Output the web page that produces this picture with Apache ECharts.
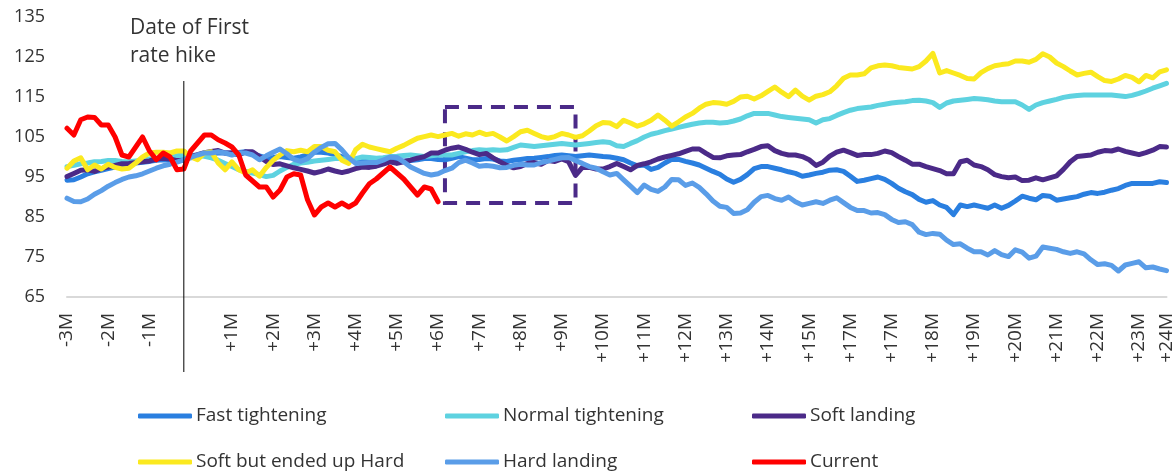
<!DOCTYPE html>
<html>
<head>
<meta charset="utf-8">
<script src="https://cdn.jsdelivr.net/npm/echarts@6/dist/echarts.min.js"></script>
<style>
  html, body { margin: 0; padding: 0; background: #fff; }
  #main { width: 1176px; height: 475px; }
</style>
</head>
<body>
<div id="main"></div>
<script>
// x axis: 161 steps, month labels sit on some of them
var tickLabels = ['-3M','-2M','-1M','+1M','+2M','+3M','+4M','+5M','+6M','+7M','+8M','+9M','+10M','+11M','+12M','+13M','+14M','+15M','+17M','+17M','+18M','+19M','+20M','+21M','+22M','+23M','+24M'];
var tickIndex = [0,6,12,24,30,36,42,48,54,60,66,72,78,84,90,96,102,108,114,120,126,132,138,144,150,156,160];
var stepCount = 161;
var hikeIndex = 17;

var fastTightening = [94.2,94.3,95,95.8,96.3,96.7,97.1,97.5,97.9,98.3,
  98.5,98.7,98.9,99.2,99.3,99.2,99.3,99.5,99.8,100.3,
  100.5,100.9,101,101,101,101.1,101.3,100.8,100.3,99.8,
  99.9,100.1,99.9,99.7,100,100.5,101.2,101.2,101,100.6,
  100.1,99.7,99.3,99.1,98.9,99.1,99.2,99.1,98.9,99,
  99.1,99.3,99.6,99.6,99.4,99.3,99.7,100.1,99.7,99.3,
  99.4,99.6,99.5,99,98.9,99.2,99.4,99.6,99.7,99.9,
  100.1,100.4,100.5,100.3,100.1,100.3,100.5,100.3,100.1,100,
  99.7,99.3,98.5,97.8,98,96.9,97.4,98.5,99.4,99.4,
  98.9,98.5,98,97.2,96.4,95.7,94.5,93.7,94.4,95.6,
  97.1,97.6,97.6,97.2,96.8,96.3,95.9,95.2,95.5,95.9,
  96.2,96.7,96.8,96.4,95.2,93.9,94.2,94.6,95,94.4,
  93.4,92.2,91.3,90.6,89.4,88.7,89.1,88,87.4,85.6,
  88,87.6,88,87.6,87.2,88,87.2,87.9,89,90.2,
  89.7,89.3,90.4,90.2,89.2,89.5,89.8,90.1,90.7,91.1,
  90.9,91.2,91.7,92.1,92.9,93.4,93.4,93.4,93.4,93.8,
  93.6];

var normalTightening = [97.6,97.9,98.3,98.5,98.8,98.9,99.1,99.1,98.9,98.8,
  99,99.2,99.5,99.7,99.9,100.1,100.3,100.5,100.5,100.4,
  100.2,99.8,99.2,98.4,97.6,96.8,96.4,96,95.6,95.1,
  95.4,96.5,97.4,98.2,98.5,98.7,99,99.2,99.4,99.6,
  99.6,99.3,99.6,100,99.9,99.7,99.8,100.1,100.2,100.4,
  100.5,100.3,100.1,100.3,100.5,100.5,100.5,100.9,101.3,101.6,
  101.8,101.7,101.8,101.7,101.8,102.4,103,102.8,102.6,102.8,
  103,103.2,103.4,103.2,103,103.2,103.4,103.6,103.8,103.6,
  102.8,102.6,103.4,104.1,105,105.7,106.1,106.6,107,107.4,
  107.8,108.2,108.5,108.7,108.7,108.5,108.6,109,109.5,110.3,
  110.9,110.9,110.9,110.5,110.1,109.9,109.7,109.5,109.3,108.5,
  109.3,109.6,110.4,111.1,111.7,112.1,112.3,112.5,112.9,113.2,
  113.5,113.7,113.8,114.1,114.2,114,113.6,112.4,113.5,114,
  114.2,114.4,114.6,114.5,114.3,114,113.8,113.8,113.8,113,
  111.9,113,113.6,114,114.4,114.9,115.2,115.4,115.5,115.5,
  115.5,115.5,115.5,115.3,115.1,115.4,115.9,116.5,117.2,117.8,
  118.4];

var softLanding = [95.1,95.9,96.7,96.8,96.4,97.1,97.5,97.9,98.3,98.4,
  98.6,98.8,99,99.5,99.7,99.5,99.1,99.1,100.1,100.6,
  101.1,101.4,101.6,101,101,100.5,101.3,101.3,100.1,98.9,
  98.1,98.3,97.8,97.3,96.9,96.5,96,96.4,97,96.5,
  96.1,96.5,97.1,97.5,97.4,97.7,98.2,98.8,98.4,98.8,
  99.2,99.7,100.1,101,101,101.7,102.2,102.5,101.9,101.2,
  100.6,100.9,99.8,98.8,97.9,97.3,97.6,98.4,98.6,98.2,
  99.1,98.9,99.5,98.8,95.4,97.4,97.4,97,97,97.6,
  98.4,97.6,96.8,97.9,98.3,98.8,99.5,100,100.4,100.8,
  101.4,102,102,100.9,99.9,99.8,100.3,100.5,100.6,101.3,
  101.9,102.6,102.8,101.6,100.9,100.5,100.5,100.1,99.3,97.9,
  98.7,100.2,101.2,101.7,101.1,100.4,100.6,100.6,100.9,101.5,
  101.1,100.1,99.2,98.2,98.2,97.6,97.1,96.6,95.8,95.8,
  98.8,99.2,98,97.6,96.8,95.6,95.1,94.8,95,94.1,
  94.2,94.8,94.3,94.8,95.3,96.9,98.8,100.1,100.3,100.5,
  101.2,101.6,101.5,102,101.4,101,100.6,101.1,101.7,102.6,
  102.5];

var softButHard = [97.2,99,99.8,96.8,98,97,98.2,97.4,97,97.2,
  98.5,100,101,101.2,101.2,101,101.5,101.5,100,99.3,
  101,101.3,98.5,96.8,98.8,96.8,96,96.8,95.2,97.4,
  99.2,100.5,101.6,101.3,101.7,101.3,102.6,102.6,101.7,101.3,
  99.2,98.4,101.8,103.2,102.5,102.1,101.7,101.3,102.2,102.9,
  103.8,104.7,105.1,105.5,105.1,105.5,105.9,105.2,105.8,105.5,
  106.2,105.6,105.9,105,104,105.1,106.3,106.7,105.9,105.1,
  104.7,105.1,105.9,105.5,104.9,105.3,106.5,107.8,108.6,108.5,
  107.6,109.2,108.5,107.7,108.3,109.2,110.5,109.2,107.7,108.8,
  110,110.9,112.2,113.2,113.6,113.5,113.2,113.9,115,115.2,
  114.5,115.3,116.4,117.5,116.2,115.1,116.7,115.2,114.2,115.2,
  115.6,116.3,117.8,119.7,120.5,120.5,120.8,122.3,122.8,123,
  122.8,122.4,122.2,122,122.6,124,125.9,121,121.6,121,
  120.4,119.6,119.5,121.1,122.1,122.8,123.1,123.3,124,124,
  123.7,124.4,125.8,125,123.5,122.6,121.5,120.5,120.9,121.2,
  120.1,119.1,118.9,119.5,120.4,119.9,118.8,120.4,119.8,121.3,
  121.8];

var hardLanding = [89.7,88.9,88.8,89.5,90.7,91.6,92.7,93.6,94.4,95,
  95.3,95.8,96.5,97.2,97.8,98.2,98.7,99.3,99.9,100.5,
  101,101,101.3,101,100.5,101,101,100.5,99.3,100.3,
  101.2,102,100.8,99.4,98.9,99.6,101.2,102.4,103.3,103.4,
  101.8,99.8,98.4,98.5,98.6,98.6,99.2,100,99.9,98.8,
  97.5,96.7,95.9,95.5,95.8,96.6,97.2,98.6,99.2,98.5,
  97.7,97.9,97.7,97.3,97.4,97.9,98.2,98,98,98.6,
  99,99.4,99.8,99.9,99.1,98.4,97.6,97.2,96.3,95.5,
  95.9,94.3,92.7,91.1,93,91.9,91.4,92.5,94.4,94.3,
  92.9,93.5,92.4,90.8,89,87.7,87.4,85.9,86,86.8,
  88.7,90.1,90.4,89.6,89.2,90,88.8,88,88.4,88.8,
  88.4,89.2,89.8,88.6,87.4,86.6,86.6,86,86.1,85.6,
  84.4,83.6,83.8,83.1,81.2,80.6,80.9,80.7,79.2,78.1,
  78.3,77.2,76.3,76.3,75.5,76.6,75.6,75.1,76.8,76.2,
  74.7,75.2,77.5,77.2,76.9,76.3,75.9,76.3,75.8,74.3,
  73.1,73.3,72.9,71.5,73,73.4,73.8,72.3,72.5,72,
  71.6];

var current = [107.2,105.5,109.3,110,109.9,108,108,105,100.5,100,
  102.5,105,101.5,99.3,101,100,96.8,97,101.5,103.5,
  105.5,105.5,104.3,103.5,102.5,100.5,95.5,94,92.5,92.5,
  90,91.75,95,95.8,95.5,89.3,85.5,87.5,88.5,87.5,
  88.5,87.5,88.5,91,93.3,94.5,96,97.5,96,94.5,
  92.5,90.5,92.5,92,88.8];

// highlighted window (dashed box)
var boxX = [55, 74];
var boxY = [112.5, 88.5];

var categories = [];
for (var i = 0; i < stepCount; i++) categories.push('');
for (var k = 0; k < tickIndex.length; k++) categories[tickIndex[k]] = tickLabels[k];

var font = '"Open Sans", Lato, sans-serif';

var makeLine = function (name, color, data) {
    return {
        name: name,
        type: 'line',
        data: data,
        showSymbol: false,
        symbol: 'none',
        smooth: false,
        lineStyle: { color: color, width: 5, cap: 'round', join: 'round' },
        itemStyle: { color: color },
        emphasis: { disabled: true },
        silent: true
    };
};

var series = [
    makeLine('Fast tightening', '#2a7fe0', fastTightening),
    makeLine('Normal tightening', '#5ed2e0', normalTightening),
    makeLine('Soft landing', '#4b2a88', softLanding),
    makeLine('Soft but ended up Hard', '#fbe91f', softButHard),
    makeLine('Hard landing', '#5a9de8', hardLanding),
    makeLine('Current', '#ff0000', current)
];
series[2].markArea = {
    silent: true,
    itemStyle: {
        color: 'rgba(0,0,0,0)',
        borderColor: '#4b2a88',
        borderWidth: 4,
        borderType: [14, 9]
    },
    data: [[{ coord: [boxX[0], boxY[0]] }, { coord: [boxX[1], boxY[1]] }]]
};

var myChart = echarts.init(document.getElementById('main'), null, { renderer: 'canvas' });
var option = {
    animation: false,
    backgroundColor: '#fff',
    grid: { left: 67, right: 9, top: 17, bottom: 178, containLabel: false },
    legend: {
        left: 138,
        top: 393,
        padding: 0,
        width: 930,
        itemGap: 0,
        itemWidth: 54,
        itemHeight: 5,
        icon: 'roundRect',
        selectedMode: false,
        textStyle: { fontFamily: font, fontSize: 19, color: '#333', width: 249, lineHeight: 46, padding: [0, 0, 0, -1] },
        data: series.map(function (s) { return s.name; })
    },
    xAxis: {
        type: 'category',
        data: categories,
        boundaryGap: false,
        axisLine: { lineStyle: { color: '#d9d9d9', width: 2 } },
        axisTick: { show: false },
        splitLine: { show: false },
        axisLabel: {
            rotate: 90,
            margin: 16,
            fontFamily: font,
            fontSize: 19,
            color: '#333',
            interval: function (idx, val) { return val !== ''; }
        }
    },
    yAxis: {
        type: 'value',
        min: 65,
        max: 135,
        interval: 10,
        axisLine: { show: false },
        axisTick: { show: false },
        splitLine: { show: false },
        axisLabel: { margin: 22, fontFamily: font, fontSize: 18, color: '#333' }
    },
    series: series
};
myChart.setOption(option);

// vertical marker at the first hike, reaching below the axis labels
var hikeX = myChart.convertToPixel({ xAxisIndex: 0 }, hikeIndex);
myChart.setOption({
    graphic: [
        {
            type: 'line',
            silent: true,
            shape: { x1: hikeX, y1: 81, x2: hikeX, y2: 372 },
            style: { stroke: '#000', lineWidth: 1 },
            z: 10
        },
        {
            type: 'text',
            left: 130,
            top: 14,
            silent: true,
            style: {
                text: 'Date of First\nrate hike',
                font: '21px ' + font,
                fill: '#333',
                lineHeight: 28
            }
        }
    ]
});
</script>
</body>
</html>
